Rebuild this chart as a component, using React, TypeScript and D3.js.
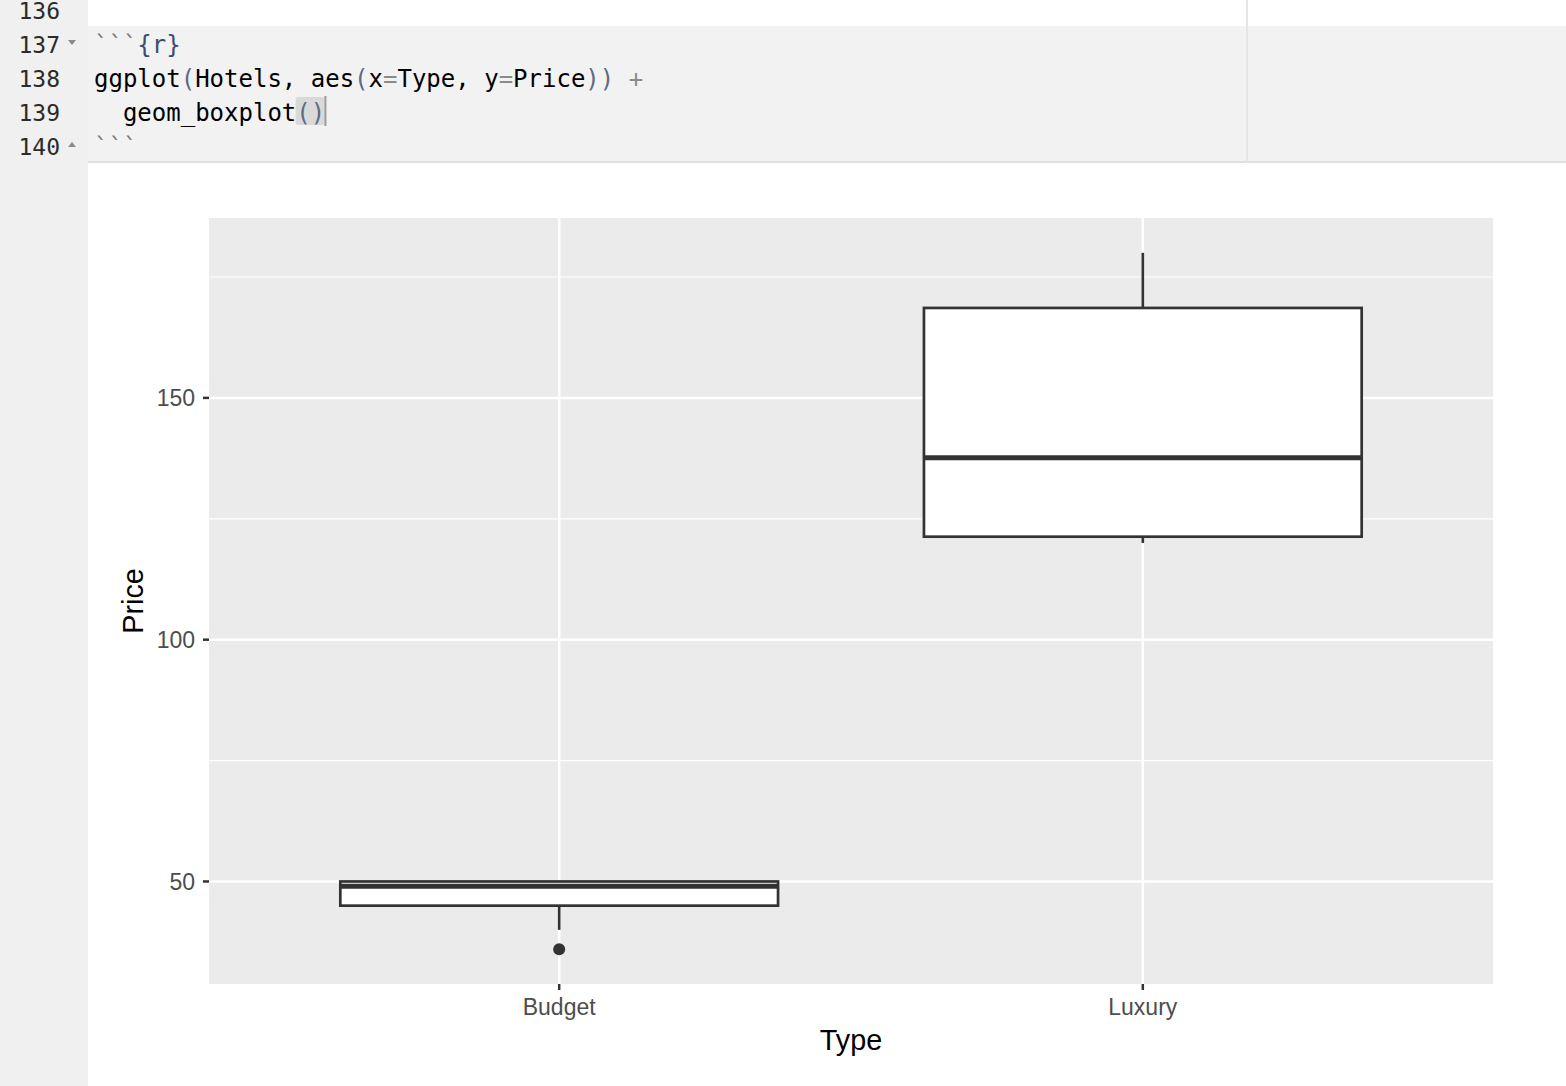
import * as d3 from "d3";
import { useEffect, useRef } from "react";

// code lines shown in the editor above the plot
const lineNumbers = ["136", "137", "138", "139", "140"];

const categories = ["Budget", "Luxury"];
const lowerWhisker = [40, 120];
const q1 = [45, 121.3];
const median = [49, 137.6];
const q3 = [50, 168.6];
const upperWhisker = [50, 180];
const outliers = [[36], []];
const yTicks = [50, 100, 150];
const yMinor = [75, 125, 175];

const App = () => {
  const svgRef = useRef<SVGSVGElement | null>(null);

  useEffect(() => {
    const W = 1566;
    const H = 1086;
    const svg = d3.select(svgRef.current);
    svg.selectAll("*").remove();

    // ---- editor chrome ----
    svg.append("rect").attr("width", W).attr("height", H).attr("fill", "#ffffff");
    svg.append("rect").attr("width", 88).attr("height", H).attr("fill", "#f0f0f0");
    svg.append("rect").attr("x", 88).attr("y", 26).attr("width", W - 88).attr("height", 136).attr("fill", "#f2f2f2");
    svg.append("rect").attr("x", 88).attr("y", 161).attr("width", W - 88).attr("height", 2).attr("fill", "#e0e0e0");
    svg.append("rect").attr("x", 1246).attr("y", 0).attr("width", 2).attr("height", 162).attr("fill", "#e6e6e6");

    const mono = "'DejaVu Sans Mono', monospace";
    const rowY = (i: number) => 19 + i * 34;

    svg
      .selectAll("text.ln")
      .data(lineNumbers)
      .join("text")
      .attr("class", "ln")
      .attr("x", 60)
      .attr("y", (_, i) => rowY(i))
      .attr("text-anchor", "end")
      .attr("font-family", mono)
      .attr("font-size", 23)
      .attr("fill", "#2b2b2b")
      .text((d) => d);

    // fold markers
    svg.append("path").attr("d", "M68,40 L76,40 L72,45 Z").attr("fill", "#8a8a8a");
    svg.append("path").attr("d", "M68,147 L76,147 L72,142 Z").attr("fill", "#8a8a8a");

    // cursor highlight
    const cw = 14.4;
    svg.append("rect").attr("x", 94 + 14 * cw).attr("y", 97).attr("width", 2 * cw).attr("height", 28).attr("rx", 3).attr("fill", "#d9d9d9");
    svg.append("rect").attr("x", 94 + 16 * cw).attr("y", 96).attr("width", 2).attr("height", 30).attr("fill", "#9a9a9a");

    const codeLines: [string, string][][] = [
      [["```", "#7a7a7a"], ["{r}", "#3c4c72"]],
      [
        ["ggplot", "#000"], ["(", "#5d6b85"], ["Hotels, aes", "#000"], ["(", "#5d6b85"],
        ["x", "#000"], ["=", "#8a8a8a"], ["Type, y", "#000"], ["=", "#8a8a8a"],
        ["Price", "#000"], ["))", "#5d6b85"], [" +", "#8a8a8a"],
      ],
      [["  geom_boxplot", "#000"], ["()", "#5d6b85"]],
      [["```", "#7a7a7a"]],
    ];
    codeLines.forEach((parts, i) => {
      const t = svg
        .append("text")
        .attr("x", 94)
        .attr("y", rowY(i + 1))
        .attr("font-family", mono)
        .attr("font-size", 24)
        .attr("xml:space", "preserve")
        .style("white-space", "pre");
      parts.forEach(([s, c]) => t.append("tspan").attr("fill", c).text(s));
    });

    // ---- plot ----
    const panel = { left: 209, right: 1493, top: 218, bottom: 984 };
    const all = [...lowerWhisker, ...upperWhisker, ...outliers.flat()];
    const lo = d3.min(all)!;
    const hi = d3.max(all)!;
    const pad = (hi - lo) * 0.05;
    const y = d3.scaleLinear().domain([lo - pad, hi + pad]).range([panel.bottom, panel.top]);
    const x = d3.scaleLinear().domain([0.4, categories.length + 0.6]).range([panel.left, panel.right]);
    const boxW = x(1.375) - x(1);

    const g = svg.append("g");
    g.append("rect")
      .attr("x", panel.left)
      .attr("y", panel.top)
      .attr("width", panel.right - panel.left)
      .attr("height", panel.bottom - panel.top)
      .attr("fill", "#ebebeb");

    g.selectAll("line.minor")
      .data(yMinor)
      .join("line")
      .attr("x1", panel.left)
      .attr("x2", panel.right)
      .attr("y1", (d) => y(d))
      .attr("y2", (d) => y(d))
      .attr("stroke", "#ffffff")
      .attr("stroke-width", 1.2);
    g.selectAll("line.major")
      .data(yTicks)
      .join("line")
      .attr("x1", panel.left)
      .attr("x2", panel.right)
      .attr("y1", (d) => y(d))
      .attr("y2", (d) => y(d))
      .attr("stroke", "#ffffff")
      .attr("stroke-width", 2.5);
    g.selectAll("line.vmajor")
      .data(categories)
      .join("line")
      .attr("x1", (_, i) => x(i + 1))
      .attr("x2", (_, i) => x(i + 1))
      .attr("y1", panel.top)
      .attr("y2", panel.bottom)
      .attr("stroke", "#ffffff")
      .attr("stroke-width", 2.5);

    const ink = "#333333";
    categories.forEach((_, i) => {
      const cx = x(i + 1);
      g.append("line")
        .attr("x1", cx).attr("x2", cx)
        .attr("y1", y(q3[i])).attr("y2", y(upperWhisker[i]))
        .attr("stroke", ink).attr("stroke-width", 2.6);
      g.append("line")
        .attr("x1", cx).attr("x2", cx)
        .attr("y1", y(q1[i])).attr("y2", y(lowerWhisker[i]))
        .attr("stroke", ink).attr("stroke-width", 2.6);
      g.append("rect")
        .attr("x", cx - boxW)
        .attr("y", y(q3[i]))
        .attr("width", boxW * 2)
        .attr("height", y(q1[i]) - y(q3[i]))
        .attr("fill", "#ffffff")
        .attr("stroke", ink)
        .attr("stroke-width", 2.7);
      g.append("line")
        .attr("x1", cx - boxW).attr("x2", cx + boxW)
        .attr("y1", y(median[i])).attr("y2", y(median[i]))
        .attr("stroke", ink).attr("stroke-width", 5);
      outliers[i].forEach((v) => {
        g.append("circle").attr("cx", cx).attr("cy", y(v)).attr("r", 6).attr("fill", ink);
      });
    });

    // axes
    const sans = "'Liberation Sans', Arial, sans-serif";
    g.selectAll("line.ytick")
      .data(yTicks)
      .join("line")
      .attr("x1", panel.left - 6)
      .attr("x2", panel.left)
      .attr("y1", (d) => y(d))
      .attr("y2", (d) => y(d))
      .attr("stroke", ink)
      .attr("stroke-width", 2.5);
    g.selectAll("text.ytl")
      .data(yTicks)
      .join("text")
      .attr("x", panel.left - 14)
      .attr("y", (d) => y(d))
      .attr("dy", "0.36em")
      .attr("text-anchor", "end")
      .attr("font-family", sans)
      .attr("font-size", 23)
      .attr("fill", "#4d4d4d")
      .text((d) => d);
    g.selectAll("line.xtick")
      .data(categories)
      .join("line")
      .attr("x1", (_, i) => x(i + 1))
      .attr("x2", (_, i) => x(i + 1))
      .attr("y1", panel.bottom)
      .attr("y2", panel.bottom + 6)
      .attr("stroke", ink)
      .attr("stroke-width", 2.5);
    g.selectAll("text.xtl")
      .data(categories)
      .join("text")
      .attr("x", (_, i) => x(i + 1))
      .attr("y", panel.bottom + 31)
      .attr("text-anchor", "middle")
      .attr("font-family", sans)
      .attr("font-size", 23)
      .attr("fill", "#4d4d4d")
      .text((d) => d);

    g.append("text")
      .attr("x", (panel.left + panel.right) / 2)
      .attr("y", panel.bottom + 66)
      .attr("text-anchor", "middle")
      .attr("font-family", sans)
      .attr("font-size", 28.75)
      .attr("fill", "#000")
      .text("Type");
    g.append("text")
      .attr("transform", `translate(143,${(panel.top + panel.bottom) / 2}) rotate(-90)`)
      .attr("text-anchor", "middle")
      .attr("font-family", sans)
      .attr("font-size", 28.75)
      .attr("fill", "#000")
      .text("Price");
  }, []);

  return (
    <svg
      ref={svgRef}
      width={1566}
      height={1086}
      style={{ position: "absolute", left: 0, top: 0, display: "block" }}
    ></svg>
  );
};

export default App;
